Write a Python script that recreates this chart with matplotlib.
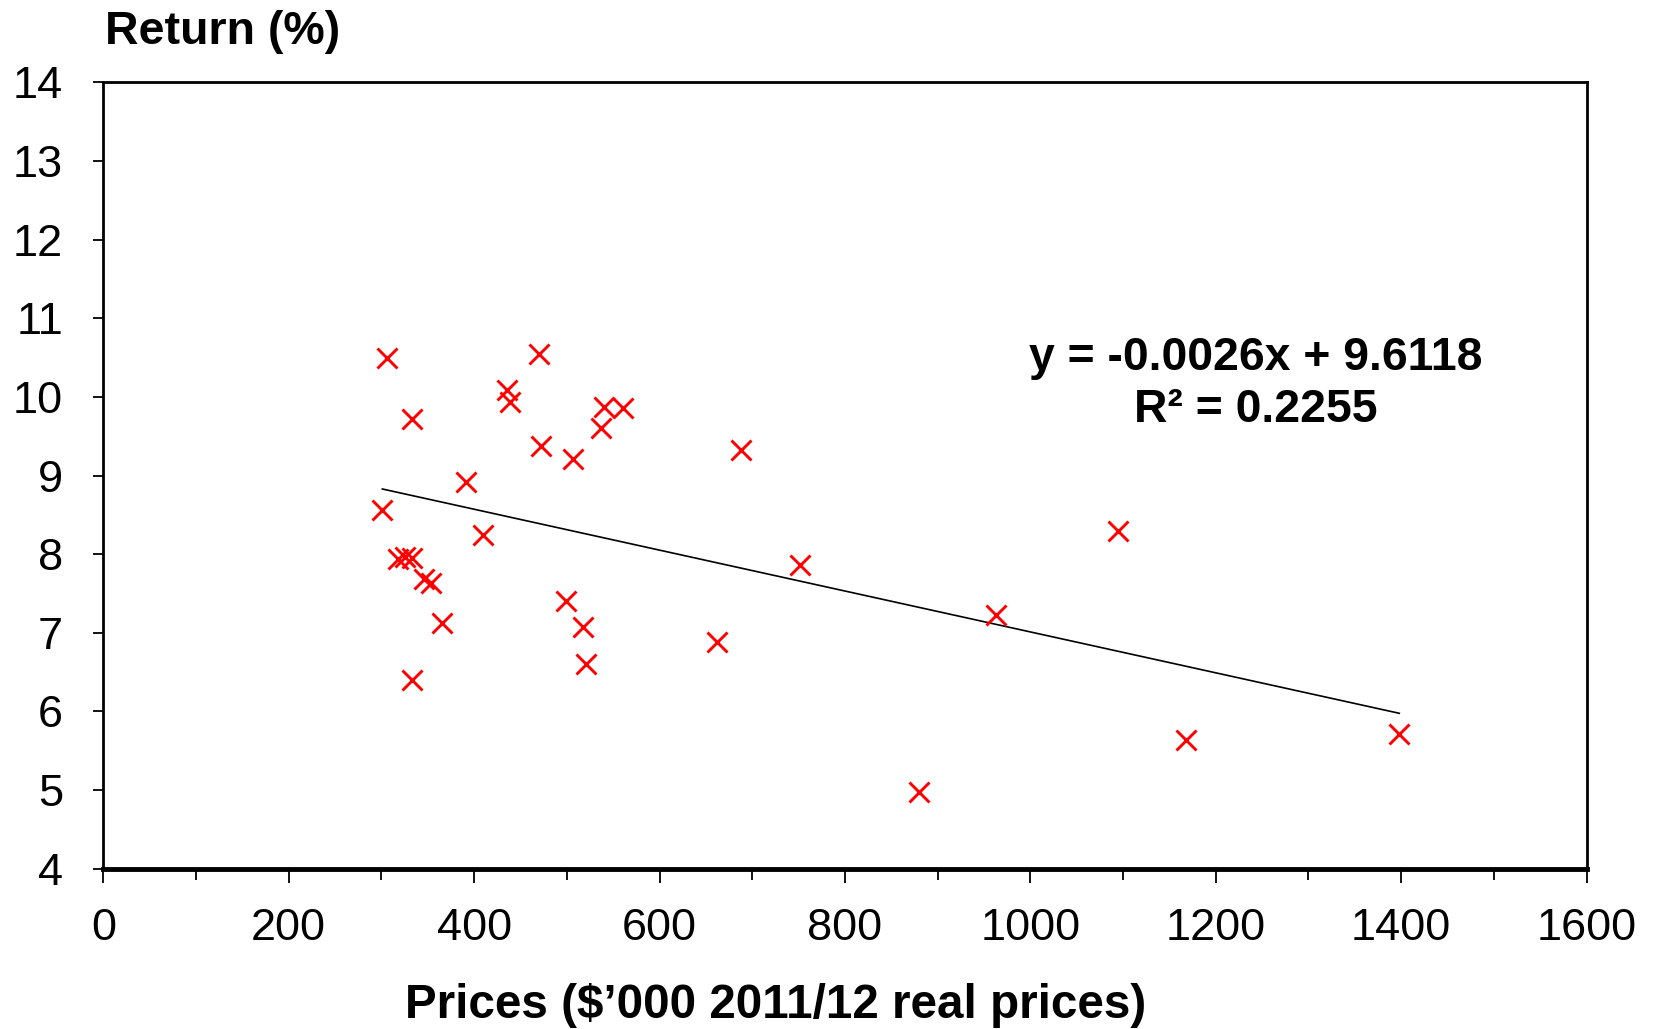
import numpy as np
import matplotlib
matplotlib.use("Agg")
import matplotlib.pyplot as plt
from matplotlib.ticker import MultipleLocator

plt.rcParams['font.family'] = ['Liberation Sans', 'DejaVu Sans']

# prices ($'000) and returns (%)
prices = [306, 470, 436, 439, 333, 540, 561, 537, 472, 507, 688, 391, 301, 410,
          318, 325, 333, 346, 353, 365, 333, 499, 517, 521, 662, 752, 963, 880,
          1095, 1168, 1398]
returns = [10.50, 10.54, 10.09, 9.93, 9.72, 9.87, 9.86, 9.60, 9.38, 9.21, 9.32,
           8.92, 8.56, 8.25, 7.94, 7.97, 7.95, 7.68, 7.64, 7.12, 6.40, 7.40, 7.08,
           6.60, 6.88, 7.86, 7.23, 4.98, 8.29, 5.64, 5.72]

slope = -0.0026
intercept = 9.6118
r_squared = 0.2255

fig = plt.figure(figsize=(16.53, 10.29), dpi=100)
ax = fig.add_axes([0.0625, 0.1557, 0.8973, 0.7643])

ax.plot(prices, returns, linestyle='none', marker='x', color='#ff0000',
        markersize=14, markeredgewidth=2.1, zorder=3)

fit_x = np.array([min(prices), max(prices)])
ax.plot(fit_x, slope * fit_x + intercept, color='black', linewidth=1.2, zorder=2)

ax.text(1243, 10.49, f"y = {slope}x + {intercept}", ha='center', va='center',
        fontsize=33.4, fontweight='bold')
ax.text(1243, 9.83, f"R² = {r_squared}", ha='center', va='center',
        fontsize=33.4, fontweight='bold')

ax.set_xlim(0, 1600)
ax.set_ylim(4, 14)
ax.xaxis.set_major_locator(MultipleLocator(200))
ax.xaxis.set_minor_locator(MultipleLocator(100))
ax.yaxis.set_major_locator(MultipleLocator(1))

for side in ['left', 'right', 'top']:
    ax.spines[side].set_linewidth(2)
ax.spines['bottom'].set_linewidth(3.5)

ax.tick_params(axis='x', which='major', direction='out', length=10, width=1.3,
               labelsize=32.5, pad=18)
ax.tick_params(axis='x', which='minor', direction='out', length=8, width=1.3)
ax.tick_params(axis='y', which='major', direction='out', length=7, width=1.3,
               labelsize=32.5, pad=22)

fig.text(0.0635, 0.969, "Return (%)", ha='left', va='center', fontsize=33.5,
         fontweight='bold')
fig.text(0.469, 0.023, "Prices ($\u2019000 2011/12 real prices)", ha='center',
         va='center', fontsize=34.3, fontweight='bold')

fig.savefig("out.png", dpi=100)
